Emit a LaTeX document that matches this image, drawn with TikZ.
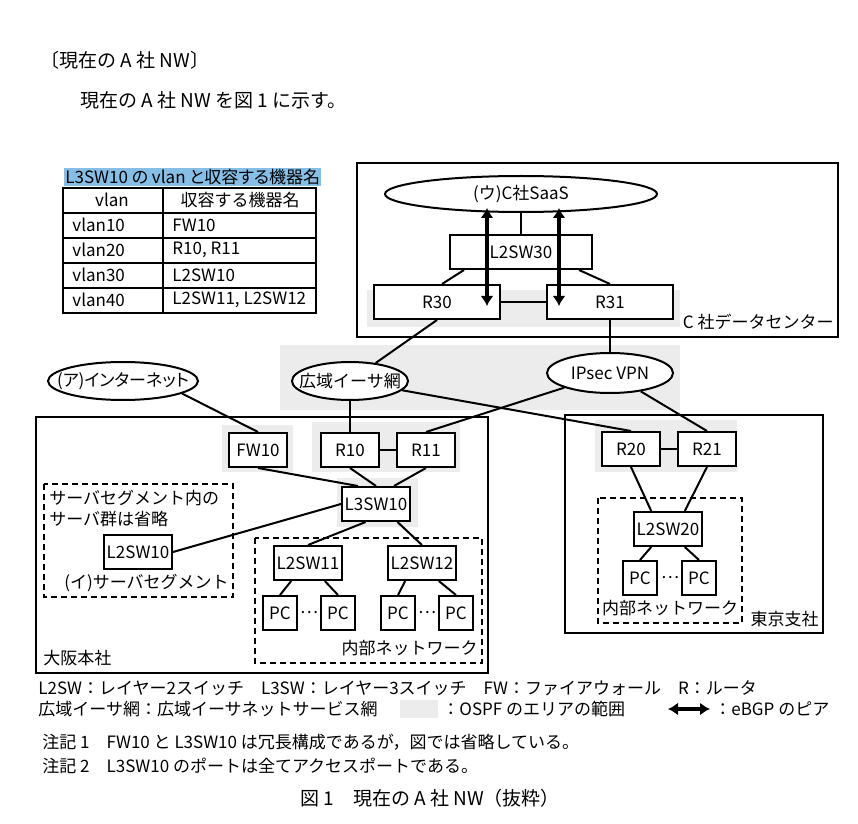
\documentclass[tikz,border=0pt]{standalone}
\usepackage{fontspec}
\setmainfont{Noto Sans CJK JP}
\newfontfamily\kanafont[RawFeature=+palt]{Noto Sans CJK JP}
\usetikzlibrary{
    shapes.geometric,
    arrows.meta,
    calc
}
\definecolor{ospfgray}{RGB}{236,236,236}
\definecolor{titleblue}{RGB}{135,190,230}
\tikzset {
    device/.style = {draw, fill = white, line width = 1pt, minimum height = 17pt, inner sep = 1pt},
    router/.style = {device, minimum width = 29pt},
    switch/.style = {device, minimum width = 34pt},
    pcbox/.style = {device, minimum width = 17pt},
    cloud/.style = {ellipse, draw, fill = white, line width = 1pt, inner xsep = -12pt, inner ysep = 0pt},
    site/.style = {draw, line width = 1pt},
    segment/.style = {draw, line width = 1.2pt, dash pattern = on 3pt off 2pt},
    link/.style = {line width = 1pt},
    cell/.style = {line width = 0.8pt},
    ospf/.style = {fill = ospfgray},
    empty/.style = {inner sep = 1pt},
    body/.style = {empty, font = \fontsize{9.5pt}{11.5pt}\selectfont},
    %
    peer/.style = {
        line width = 1.6pt,
        arrows = {Latex[length = 5pt, width = 6.5pt]-Latex[length = 5pt, width = 6.5pt]}
    }
}

\begin{document}
\begin{tikzpicture}[x = 0.5pt, y = -0.5pt, font = \fontsize{8.5pt}{10.5pt}\selectfont]
            \useasboundingbox (0, 0) rectangle (858, 824);
            \node (head) [body, anchor = west] at (38, 60) {〔現在の A 社 NW〕};
            \node (intro) [body, anchor = west] at (78, 100) {現在の A 社 NW を図 1 に示す。};
            % OSPF area
            \fill [ospf] (367, 290) rectangle (680, 327);
            \fill [ospf] (280, 345) rectangle (680, 410);
            \fill [ospf] (222, 425) rectangle (293, 472);
            \fill [ospf] (312, 422) rectangle (460, 472);
            \fill [ospf] (337, 478) rectangle (418, 527);
            \fill [ospf] (595, 420) rectangle (737, 472);
            % vlan table
            \node (title) [fill = titleblue, inner sep = 0.5pt, anchor = west] at (64, 177) {\kanafont L3SW10 の vlan と収容する機器名};
            \draw [cell] (63, 188) rectangle (316, 313);
            \draw [cell] (163, 188) -- (163, 313);
            \draw [cell] (63, 213) -- (316, 213);
            \draw [cell] (63, 238) -- (316, 238);
            \draw [cell] (63, 263) -- (316, 263);
            \draw [cell] (63, 288) -- (316, 288);
            \node (h1) [empty] at (112, 200) {vlan};
            \node (h2) [empty] at (240, 200) {収容する機器名};
            \node (v10) [empty, anchor = west] at (70, 225) {vlan10};
            \node (v20) [empty, anchor = west] at (70, 250) {vlan20};
            \node (v30) [empty, anchor = west] at (70, 275) {vlan30};
            \node (v40) [empty, anchor = west] at (70, 300) {vlan40};
            \node (m10) [empty, anchor = west] at (170, 225) {FW10};
            \node (m20) [empty, anchor = west] at (170, 250) {R10, R11};
            \node (m30) [empty, anchor = west] at (170, 275) {L2SW10};
            \node (m40) [empty, anchor = west] at (170, 300) {L2SW11, L2SW12};
            % sites
            \draw [site] (357, 163) rectangle (838, 337);
            \draw [site] (36, 417) rectangle (488, 673);
            \draw [site] (565, 415) rectangle (823, 633);
            \draw [segment] (44, 484) rectangle (233, 597);
            \draw [segment] (255, 538) rectangle (482, 663);
            \draw [segment] (598, 498) rectangle (742, 623);
            \node (dc) [empty, anchor = east] at (836, 322) {C 社データセンター};
            \node (osaka) [empty, anchor = west] at (41, 658) {大阪本社};
            \node (tokyo) [empty, anchor = east] at (821, 619) {東京支社};
            \node (srvnote) [empty, anchor = north west, align = left] at (47, 488) {サーバセグメント内の\\サーバ群は省略};
            \node (srvseg) [empty, anchor = east] at (231, 583) {(イ)サーバセグメント};
            \node (lan1) [empty, anchor = east] at (480, 648) {内部ネットワーク};
            \node (lan2) [empty] at (670, 608) {内部ネットワーク};
            % networks
            \node (saas) [cloud, minimum width = 136pt, minimum height = 18pt] at (521, 194) {(ウ)C社SaaS};
            \node (inet) [cloud, minimum width = 75pt, minimum height = 19pt] at (123, 381) {\kanafont (ア)インターネット};
            \node (wan) [cloud, minimum width = 58pt, minimum height = 19pt] at (350, 381) {広域イーサ網};
            \node (ipsec) [cloud, minimum width = 63pt, minimum height = 20pt] at (610, 373) {IPsec VPN};
            % devices
            \node (l2sw30) [device, minimum width = 71pt] at (521, 252) {L2SW30};
            \node (r30) [device, minimum width = 63pt] at (437, 302) {R30};
            \node (r31) [device, minimum width = 63pt] at (610, 302) {R31};
            \node (fw10) [router] at (258, 450) {FW10};
            \node (r10) [router] at (350, 450) {R10};
            \node (r11) [router] at (426, 450) {R11};
            \node (l3sw10) [switch] at (376, 504) {L3SW10};
            \node (l2sw10) [switch] at (138, 552) {L2SW10};
            \node (l2sw11) [switch] at (308, 563) {L2SW11};
            \node (l2sw12) [switch] at (422, 563) {L2SW12};
            \node (pc11) [pcbox] at (280, 613) {PC};
            \node (pc12) [pcbox] at (338, 613) {PC};
            \node (pc13) [pcbox] at (398, 613) {PC};
            \node (pc14) [pcbox] at (456, 613) {PC};
            \node (dots11) [empty] at (309, 613) {…};
            \node (dots12) [empty] at (427, 613) {…};
            \node (r20) [router] at (631, 449) {R20};
            \node (r21) [router] at (707, 449) {R21};
            \node (l2sw20) [switch] at (668, 529) {L2SW20};
            \node (pc21) [pcbox] at (640, 578) {PC};
            \node (pc22) [pcbox] at (699, 578) {PC};
            \node (dots21) [empty] at (670, 578) {…};
            % links
            \draw [link] (saas) -- (l2sw30);
            \draw [link] ($ (l2sw30.south west) + (15, 0) $) -- ($ (r30.north) + (5, 0) $);
            \draw [link] ($ (l2sw30.south east) + (-14, 0) $) -- (r31.north);
            \draw [link] (r30) -- (r31);
            \draw [link] (r31) -- (ipsec);
            \draw [link] (r30.south) -- (wan);
            \draw [link] (inet.-12) -- (fw10.north);
            \draw [link] (wan) -- (r10);
            \draw [link] (wan) -- (r20.north);
            \draw [link] (ipsec) -- (r11.north);
            \draw [link] (ipsec) -- (r21.north);
            \draw [link] (r10) -- (r11);
            \draw [link] (r20) -- (r21);
            \draw [link] (fw10.south) -- (l3sw10.135);
            \draw [link] (r10.south) -- (l3sw10.north);
            \draw [link] (r11.south) -- (l3sw10.45);
            \draw [link] (l2sw10.east) -- (l3sw10.west);
            \draw [link] (l3sw10.-120) -- (l2sw11.north);
            \draw [link] (l3sw10.-40) -- (l2sw12.north);
            \draw [link] (l2sw11.-133) -- (pc11.north);
            \draw [link] (l2sw11.-47) -- (pc12.north);
            \draw [link] (l2sw12.-133) -- (pc13.north);
            \draw [link] (l2sw12.-47) -- (pc14.north);
            \draw [link] (r20.south) -- (l2sw20.133);
            \draw [link] (r21.south) -- (l2sw20.47);
            \draw [link] (l2sw20.-133) -- (pc21.north);
            \draw [link] (l2sw20.-47) -- (pc22.north);
            % eBGP peers
            \coordinate (bgp30a) at (487, 208);
            \coordinate (bgp30b) at (487, 306);
            \coordinate (bgp31a) at (559, 208);
            \coordinate (bgp31b) at (559, 306);
            \draw [peer] (bgp30a) -- (bgp30b);
            \draw [peer] (bgp31a) -- (bgp31b);
            % legend
            \node (key1) [empty, anchor = west] at (36, 688) {L2SW：レイヤー2スイッチ　L3SW：レイヤー3スイッチ　FW：ファイアウォール　R：ルータ};
            \node (key2) [empty, anchor = west] at (36, 709) {広域イーサ網：広域イーサネットサービス網};
            \fill [ospf] (400, 700) rectangle (438, 718);
            \node (key3) [empty, anchor = west] at (440, 709) {：OSPF のエリアの範囲};
            \coordinate (keya) at (668, 709);
            \coordinate (keyb) at (710, 709);
            \draw [peer] (keya) -- (keyb);
            \node (key4) [empty, anchor = west] at (712, 709) {：eBGP のピア};
            \node (note1) [empty, anchor = west] at (40, 742) {注記 1　FW10 と L3SW10 は冗長構成であるが，図では省略している。};
            \node (note2) [empty, anchor = west] at (40, 766) {注記 2　L3SW10 のポートは全てアクセスポートである。};
            \node (fig) [body] at (430, 798) {図 1　現在の A 社 NW（抜粋）};
        \end{tikzpicture}
\end{document}
